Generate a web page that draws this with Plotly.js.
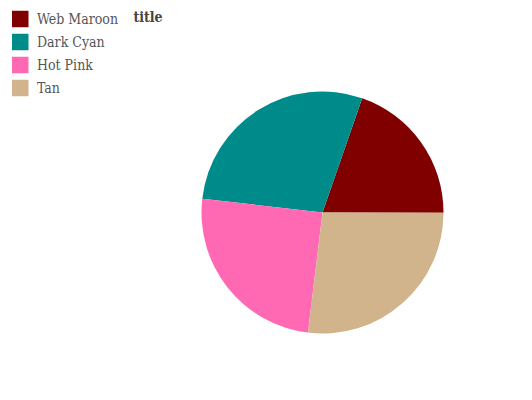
<!DOCTYPE html>
<html>
<head>
<meta charset="utf-8">
<script src="https://cdn.plot.ly/plotly-3.0.1.min.js"></script>
<style>html,body{margin:0;padding:0;background:#fff;}#chart{width:532px;height:400px;}</style>
</head>
<body>
<div id="chart"></div>
<script>
var categories = ["Web Maroon", "Dark Cyan", "Hot Pink", "Tan"];
var values = [19.7, 28.5, 24.9, 26.9];
var colors = ["#800000", "#008b8b", "#ff69b4", "#d2b48c"];
var titleText = "title";

var W = 532, H = 400;

var trace = {
  type: "pie",
  labels: categories,
  values: values,
  marker: {colors: colors, line: {width: 0}},
  sort: false,
  direction: "counterclockwise",
  rotation: 19.15,
  textinfo: "none",
  hoverinfo: "label+percent",
  showlegend: false,
  domain: {x: [201.5/W, 443.5/W], y: [1 - 333.5/H, 1 - 91.5/H]}
};

// legend drawn as shapes + text annotations, one row per category
var shapes = [], annotations = [];
for (var i = 0; i < categories.length; i++) {
  var cy = 19 + 23 * i;
  shapes.push({type: "rect", xref: "paper", yref: "paper",
    x0: 12/W, x1: 28.5/W, y0: 1 - (cy + 8.25)/H, y1: 1 - (cy - 8.25)/H,
    fillcolor: colors[i], line: {width: 0}});
  annotations.push({xref: "paper", yref: "paper", x: 35/W, y: 1 - cy/H,
    xanchor: "left", yanchor: "middle", showarrow: false, text: categories[i],
    font: {family: "DejaVu Serif Condensed, DejaVu Serif", size: 14, color: "#555555"}});
}

var layout = {
  width: W, height: H,
  margin: {l: 0, r: 0, t: 0, b: 0},
  paper_bgcolor: "#ffffff",
  font: {family: "DejaVu Serif Condensed, DejaVu Serif", color: "#555555", size: 14},
  title: {text: "<b>" + titleText + "</b>", x: 148/W, xanchor: "center", y: 1 - 17/H, yanchor: "middle",
          font: {family: "DejaVu Serif Condensed, DejaVu Serif", size: 14, color: "#444444"}},
  showlegend: false,
  shapes: shapes,
  annotations: annotations
};

Plotly.newPlot("chart", [trace], layout, {staticPlot: true});
</script>
</body>
</html>
